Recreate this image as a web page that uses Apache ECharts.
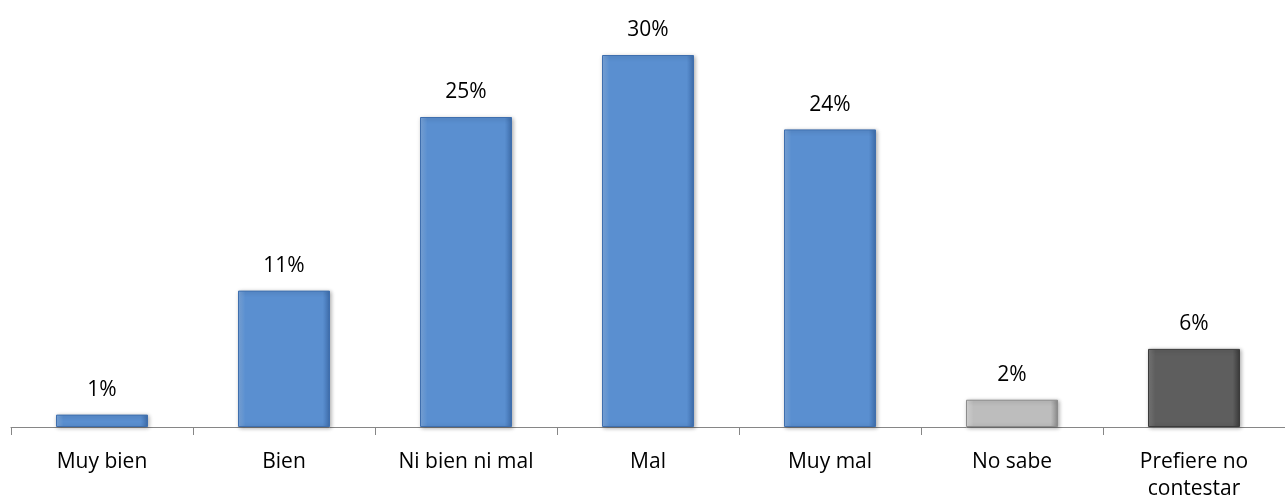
<!DOCTYPE html>
<html>
<head>
<meta charset="utf-8">
<script src="https://cdn.jsdelivr.net/npm/echarts@6/dist/echarts.min.js"></script>
<style>
  html, body { margin: 0; padding: 0; background: #fff; }
  #chart { width: 1285px; height: 504px; }
</style>
</head>
<body>
<div id="chart"></div>
<script>
  // categorias y valores (%)
  const categories = ['Muy bien', 'Bien', 'Ni bien ni mal', 'Mal', 'Muy mal', 'No sabe', 'Prefiere no\ncontestar'];
  const values = [1, 11, 25, 30, 24, 2.2, 6.3];
  const kinds = ['blue', 'blue', 'blue', 'blue', 'blue', 'light', 'dark'];

  const palette = {
    blue: ['#7eaae0', '#5a8fd0', '#3f6fae'],
    light: ['#dcdcdc', '#bdbdbd', '#8c8c8c'],
    dark: ['#7a7a7a', '#5e5e5e', '#3b3b3b']
  };

  function barColor(kind) {
    const c = palette[kind];
    return {
      type: 'linear', x: 0, y: 0, x2: 1, y2: 0,
      colorStops: [
        { offset: 0, color: c[0] },
        { offset: 0.08, color: c[1] },
        { offset: 0.92, color: c[1] },
        { offset: 1, color: c[2] }
      ]
    };
  }

  const chart = echarts.init(document.getElementById('chart'));
  const option = {
    animation: false,
    grid: { left: 11, right: 0, top: 55, bottom: 77 },
    xAxis: {
      type: 'category',
      data: categories,
      axisLine: { lineStyle: { color: '#868686', width: 1 } },
      axisTick: { show: true, length: 8, lineStyle: { color: '#868686' } },
      axisLabel: {
        color: '#000',
        fontFamily: 'Open Sans',
        fontSize: 21,
        margin: 22,
        lineHeight: 27,
        interval: 0
      }
    },
    yAxis: {
      type: 'value', min: 0, max: 30, show: false,
      splitLine: { show: false }
    },
    series: [{
      type: 'bar',
      barWidth: 92,
      data: values.map(function (v, i) {
        return {
          value: v,
          itemStyle: {
            color: barColor(kinds[i]),
            borderColor: palette[kinds[i]][2],
            borderWidth: 1,
            shadowColor: 'rgba(0,0,0,0.3)',
            shadowBlur: 4,
            shadowOffsetX: 1,
            shadowOffsetY: 1
          }
        };
      }),
      label: {
        show: true,
        position: 'top',
        distance: 14,
        color: '#000',
        fontFamily: 'Open Sans',
        fontSize: 21,
        formatter: function (p) { return Math.round(p.value) + '%'; }
      }
    }]
  };
  chart.setOption(option);
</script>
</body>
</html>
